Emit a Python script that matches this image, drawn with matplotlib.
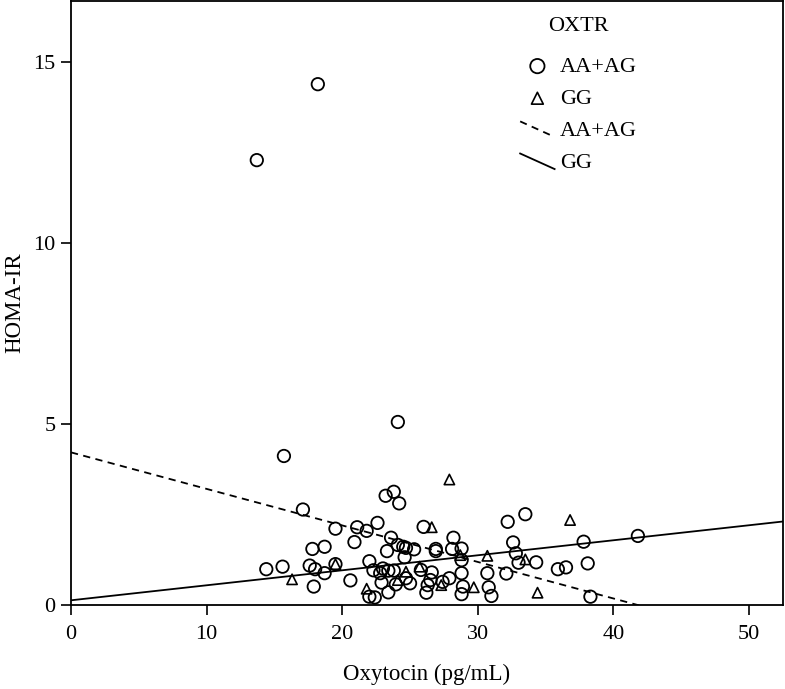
import matplotlib
matplotlib.use("Agg")
import matplotlib.pyplot as plt
import numpy as np
from matplotlib.legend_handler import HandlerBase
from matplotlib.lines import Line2D

plt.rcParams["font.family"] = ["Liberation Serif", "DejaVu Serif"]

# OXTR AA+AG group (circles)
aa_oxytocin = [13.7, 18.2, 24.1, 15.7, 17.1, 19.5, 21.1, 21.8, 22.6, 23.2,
               23.8, 24.2, 17.8, 18.7, 20.9, 23.6, 23.3, 14.4, 15.6, 17.6,
               18.0, 18.7, 19.5, 17.9, 20.6, 22.0, 22.3, 22.8, 23.4, 23.8,
               22.9, 23.4, 23.95, 22.0, 22.4, 26.0, 32.2, 24.1, 24.5, 24.7,
               25.3, 24.6, 26.9, 26.9, 28.2, 28.1, 28.8, 28.8, 23.0, 24.7,
               25.0, 25.8, 26.6, 26.5, 26.3, 26.2, 27.4, 27.9, 28.8, 28.9,
               28.8, 30.7, 30.8, 31.0, 32.1, 33.5, 32.6, 32.8, 33.0, 34.3,
               35.9, 36.5, 38.1, 37.8, 41.8, 38.3]
aa_homa = [12.3, 14.4, 5.06, 4.12, 2.64, 2.11, 2.15, 2.05, 2.27, 3.02,
           3.13, 2.81, 1.55, 1.61, 1.74, 1.86, 1.49, 0.99, 1.06, 1.09,
           0.99, 0.88, 1.13, 0.51, 0.68, 1.21, 0.96, 0.88, 0.95, 0.95,
           0.62, 0.35, 0.57, 0.23, 0.21, 2.16, 2.30, 1.66, 1.61, 1.58,
           1.54, 1.32, 1.55, 1.49, 1.86, 1.55, 1.56, 1.24, 1.01, 0.74,
           0.60, 0.97, 0.90, 0.69, 0.55, 0.34, 0.64, 0.74, 0.88, 0.51,
           0.30, 0.88, 0.49, 0.25, 0.87, 2.51, 1.73, 1.43, 1.17, 1.18,
           0.99, 1.04, 1.15, 1.75, 1.91, 0.23]

# OXTR GG group (triangles)
gg_oxytocin = [27.9, 26.6, 36.8, 28.7, 30.7, 33.5, 24.7, 24.1, 25.7, 27.3,
               29.7, 34.4, 16.3, 21.8, 19.5]
gg_homa = [3.47, 2.15, 2.35, 1.38, 1.36, 1.26, 0.92, 0.69, 1.06, 0.55,
           0.49, 0.34, 0.71, 0.45, 1.13]

# fit lines (intercept, slope)
aa_fit = [4.22, -0.101]
gg_fit = [0.13, 0.0415]

x_max = 52.5
y_max = 16.7


class DiagonalLineHandler(HandlerBase):
    # SPSS style legend: short line drawn from upper left to lower right
    def create_artists(self, legend, orig_handle, xdescent, ydescent,
                       width, height, fontsize, trans):
        line = Line2D([-xdescent, -xdescent + width],
                      [-ydescent + height * 0.95, -ydescent - height * 0.05])
        line.update_from(orig_handle)
        line.set_transform(trans)
        return [line]


fig = plt.figure(figsize=(7.85, 6.89), dpi=100)
ax = fig.add_axes([71 / 785, 84 / 689, 712 / 785, 604 / 689])

circles = ax.scatter(aa_oxytocin, aa_homa, s=80, marker="o",
                     facecolors="none", edgecolors="black", linewidths=1.3)
triangles = ax.scatter(gg_oxytocin, gg_homa, s=55, marker="^",
                       facecolors="none", edgecolors="black", linewidths=1.2)

xs = np.array([0, x_max])
dashed, = ax.plot(xs, aa_fit[0] + aa_fit[1] * xs, color="black",
                  linestyle=(0, (4, 3)), linewidth=1.3)
solid, = ax.plot(xs, gg_fit[0] + gg_fit[1] * xs, color="black",
                 linewidth=1.3)

ax.set_xlim(0, x_max)
ax.set_ylim(0, y_max)
ax.set_xticks([0, 10, 20, 30, 40, 50])
ax.set_yticks([0, 5, 10, 15])
ax.tick_params(axis="both", direction="out", length=7.5, width=1.2,
               labelsize=16, colors="black")
ax.tick_params(axis="x", pad=7)
for spine in ax.spines.values():
    spine.set_linewidth(1.3)

ax.set_xlabel("Oxytocin (pg/mL)", fontsize=16.5, labelpad=14)
ax.set_ylabel("HOMA-IR", fontsize=16.5, labelpad=6)

leg = ax.legend([circles, triangles, dashed, solid],
                ["AA+AG", "GG", "AA+AG", "GG"],
                title="OXTR", title_fontsize=16, fontsize=16,
                loc="upper left", bbox_to_anchor=(0.609, 1.0),
                frameon=False, handlelength=1.55, handletextpad=0.25,
                labelspacing=0.52, borderpad=0.2, markerscale=1.15,
                handler_map={Line2D: DiagonalLineHandler()})
leg._legend_box.align = "center"
leg._legend_box.sep = 15

fig.savefig("out.png", dpi=100)
